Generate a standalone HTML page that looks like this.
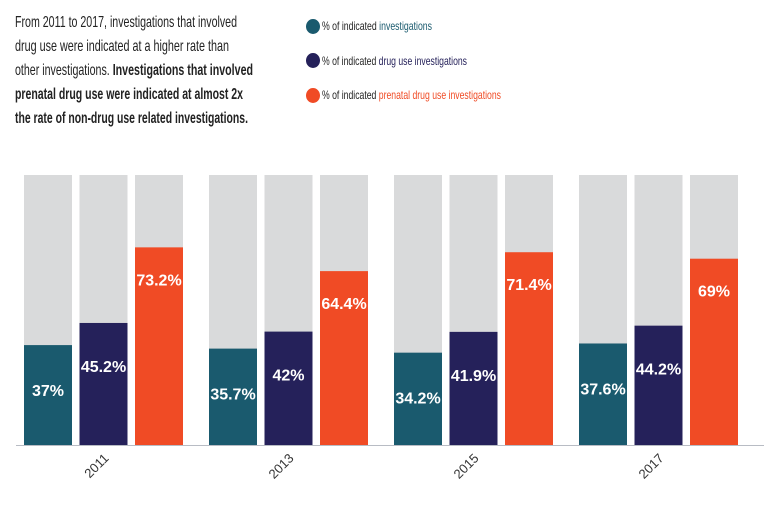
<!DOCTYPE html>
<html><head><meta charset="utf-8"><style>
body{margin:0;background:#fff;width:764px;height:508px;overflow:hidden;font-family:"Liberation Sans",sans-serif}
.tl{position:absolute;left:15px;font-size:16px;line-height:20px;color:#222;white-space:nowrap;transform-origin:0 50%}
.lg{position:absolute;left:322px;font-size:12px;line-height:14px;color:#222;white-space:nowrap;transform-origin:0 50%}
.dot{position:absolute;left:306px;width:14px;height:15px;border-radius:50%}
</style></head><body>
<div>
<div class="tl fit" data-w="222" style="top:13px">From 2011 to 2017, investigations that involved</div>
<div class="tl fit" data-w="214" style="top:37px">drug use were indicated at a higher rate than</div>
<div class="tl fit" data-w="238" style="top:61px">other investigations. <b>Investigations that involved</b></div>
<div class="tl fit" data-w="228" style="top:85px;font-weight:bold">prenatal drug use were indicated at almost 2x</div>
<div class="tl fit" data-w="233" style="top:109px;font-weight:bold">the rate of non-drug use related investigations.</div>
</div>
<span class="dot" style="top:19px;background:#1a5a6e"></span>
<span class="dot" style="top:53px;background:#25215a"></span>
<span class="dot" style="top:88px;background:#f04b25"></span>
<div class="lg fit" data-w="110" style="top:19px">% of indicated <span style="color:#1a5a6e">investigations</span></div>
<div class="lg fit" data-w="145" style="top:54px">% of indicated <span style="color:#25215a">drug use investigations</span></div>
<div class="lg fit" data-w="179" style="top:88px">% of indicated <span style="color:#f04b25">prenatal drug use investigations</span></div>
<svg id="chart" width="764" height="508" style="position:absolute;left:0;top:0"></svg>
<script>
const years = ["2011","2013","2015","2017"];
const allInv = [37, 35.7, 34.2, 37.6];
const drugInv = [45.2, 42, 41.9, 44.2];
const prenatalInv = [73.2, 64.4, 71.4, 69];
const labelsAll = ["37%","35.7%","34.2%","37.6%"];
const labelsDrug = ["45.2%","42%","41.9%","44.2%"];
const labelsPre = ["73.2%","64.4%","71.4%","69%"];

document.querySelectorAll('.fit').forEach(el=>{
  const w = el.getBoundingClientRect().width;
  el.style.transform = 'scaleX(' + (parseFloat(el.dataset.w)/w) + ')';
});

const svg = document.getElementById('chart');
const NS = "http://www.w3.org/2000/svg";
const base = 445, top100 = 175;
const y = v => base - (base - top100) * v / 100;
const gx = i => 24 + i * 185;
const bw = 48, step = 55.5;
const series = [
  {vals: allInv, labs: labelsAll, color: "#1a5a6e", off: 45, name: "investigations"},
  {vals: drugInv, labs: labelsDrug, color: "#25215a", off: 43, name: "drug-use"},
  {vals: prenatalInv, labs: labelsPre, color: "#f04b25", off: 32, name: "prenatal"}
];
function mk(tag, attrs){ const e=document.createElementNS(NS,tag); for(const k in attrs) e.setAttribute(k,attrs[k]); svg.appendChild(e); return e; }
years.forEach((yr,i)=>{
  series.forEach((s,j)=>{
    const x = gx(i) + j*step;
    const bg = mk('rect',{x:x,y:y(100),width:bw,height:y(0)-y(100),fill:"#d9dadb"});
    
    
    const r = mk('rect',{x:x,y:y(s.vals[i]),width:bw,height:y(0)-y(s.vals[i]),fill:s.color});
    
    
    const t = mk('text',{x:x+bw/2,y:y(s.vals[i])+s.off+6,'text-anchor':'middle',fill:'#fff','font-size':'16','font-weight':'bold','font-family':'Liberation Sans, sans-serif',textLength:null});
    t.removeAttribute('textLength');
    t.textContent = s.labs[i];
    
    
  });
  const cx = gx(i) + step + bw/2;
  const yl = mk('text',{x:0,y:0,'text-anchor':'end',fill:'#333','font-size':'13','font-family':'Liberation Sans, sans-serif',transform:`translate(${cx+6},${459}) rotate(-45)`});
  yl.textContent = yr;
  
  
});
const ax = mk('line',{x1:16,x2:764,y1:base+0.5,y2:base+0.5,stroke:'#b8bcc4','stroke-width':1});


</script>
</body></html>
